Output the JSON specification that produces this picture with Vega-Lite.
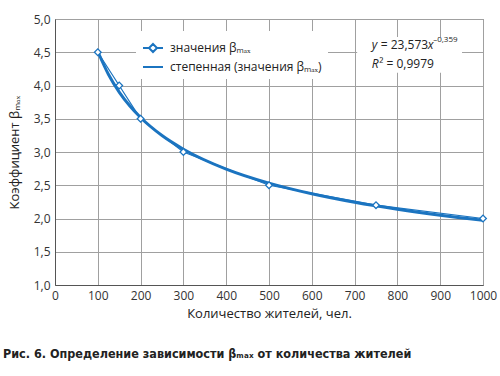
{
  "$schema": "https://vega.github.io/schema/vega-lite/v6.json",
  "width": 428,
  "height": 266,
  "autosize": {"type": "none"},
  "padding": {"left": 55, "top": 19, "right": 17, "bottom": 91},
  "background": "white",
  "config": {
    "font": "Open Sans",
    "view": {"stroke": "#7a7a7a", "strokeWidth": 1},
    "axis": {"grid": true, "gridColor": "#a0a0a0", "gridOpacity": 1, "gridWidth": 1, "domainColor": "#555", "ticks": false, "labelFlush": false, "labelFont": "Open Sans", "labelFontSize": 12, "labelColor": "#333", "titleFont": "Open Sans", "titleFontSize": 13, "titleFontWeight": "normal", "titleColor": "#222"}
  },
  "title": {"text": "Рис. 6. Определение зависимости βₘₐₓ от количества жителей", "orient": "bottom", "anchor": "start", "frame": "group", "dx": -52, "offset": 28, "font": "DejaVu Sans Condensed", "fontSize": 12.5, "fontWeight": "bold", "color": "#222"},
  "datasets": {
    "obs": [
      {"x": 100, "y": 4.5, "s": "значения βₘₐₓ"},
      {"x": 150, "y": 4.0, "s": "значения βₘₐₓ"},
      {"x": 200, "y": 3.5, "s": "значения βₘₐₓ"},
      {"x": 300, "y": 3.0, "s": "значения βₘₐₓ"},
      {"x": 500, "y": 2.5, "s": "значения βₘₐₓ"},
      {"x": 750, "y": 2.2, "s": "значения βₘₐₓ"},
      {"x": 1000, "y": 2.0, "s": "значения βₘₐₓ"}
    ],
    "fit": [
      {"x": 100, "y": 4.512, "s": "степенная (значения βₘₐₓ)"},
      {"x": 125, "y": 4.165, "s": "степенная (значения βₘₐₓ)"},
      {"x": 150, "y": 3.901, "s": "степенная (значения βₘₐₓ)"},
      {"x": 175, "y": 3.691, "s": "степенная (значения βₘₐₓ)"},
      {"x": 200, "y": 3.518, "s": "степенная (значения βₘₐₓ)"},
      {"x": 250, "y": 3.247, "s": "степенная (значения βₘₐₓ)"},
      {"x": 300, "y": 3.042, "s": "степенная (значения βₘₐₓ)"},
      {"x": 400, "y": 2.743, "s": "степенная (значения βₘₐₓ)"},
      {"x": 500, "y": 2.532, "s": "степенная (значения βₘₐₓ)"},
      {"x": 600, "y": 2.372, "s": "степенная (значения βₘₐₓ)"},
      {"x": 700, "y": 2.244, "s": "степенная (значения βₘₐₓ)"},
      {"x": 800, "y": 2.139, "s": "степенная (значения βₘₐₓ)"},
      {"x": 900, "y": 2.050, "s": "степенная (значения βₘₐₓ)"},
      {"x": 1000, "y": 1.974, "s": "степенная (значения βₘₐₓ)"}
    ],
    "eq": [
      {"a": "y", "b": "= 23,573", "c": "x", "d": "–0,359", "r": "R", "q": "² = 0,9979"}
    ]
  },
  "layer": [
    {
      "data": {"name": "fit"},
      "mark": {"type": "line", "strokeWidth": 3, "interpolate": "monotone", "color": "#1b74c0"},
      "encoding": {
        "x": {"field": "x", "type": "quantitative", "scale": {"domain": [0, 1000], "nice": false, "zero": false}, "axis": {"values": [0,100,200,300,400,500,600,700,800,900,1000], "format": "d", "title": "Количество жителей, чел.", "titlePadding": 6, "labelPadding": 5, "grid": true}},
        "y": {"field": "y", "type": "quantitative", "scale": {"domain": [1, 5], "nice": false, "zero": false}, "axis": {"values": [1,1.5,2,2.5,3,3.5,4,4.5,5], "labelExpr": "replace(format(datum.value, '.1f'), '.', ',')", "title": "Коэффициент βₘₐₓ", "titlePadding": 12, "labelPadding": 5, "grid": true}}
      }
    },
    {
      "data": {"name": "eq"},
      "mark": {"type": "rect", "fill": "white"},
      "encoding": {
        "x": {"datum": 706, "type": "quantitative", "scale": {"domain": [0, 1000], "nice": false, "zero": false}, "axis": {"values": [0,100,200,300,400,500,600,700,800,900,1000], "format": "d", "title": "Количество жителей, чел.", "titlePadding": 6, "labelPadding": 5, "grid": true}},
        "x2": {"datum": 951},
        "y": {"datum": 4.73, "type": "quantitative", "scale": {"domain": [1, 5], "nice": false, "zero": false}, "axis": {"values": [1,1.5,2,2.5,3,3.5,4,4.5,5], "labelExpr": "replace(format(datum.value, '.1f'), '.', ',')", "title": "Коэффициент βₘₐₓ", "titlePadding": 12, "labelPadding": 5, "grid": true}},
        "y2": {"datum": 4.19}
      }
    },
    {
      "data": {"name": "obs"},
      "encoding": {
        "x": {"field": "x", "type": "quantitative", "scale": {"domain": [0, 1000], "nice": false, "zero": false}, "axis": {"values": [0,100,200,300,400,500,600,700,800,900,1000], "format": "d", "title": "Количество жителей, чел.", "titlePadding": 6, "labelPadding": 5, "grid": true}},
        "y": {"field": "y", "type": "quantitative", "scale": {"domain": [1, 5], "nice": false, "zero": false}, "axis": {"values": [1,1.5,2,2.5,3,3.5,4,4.5,5], "labelExpr": "replace(format(datum.value, '.1f'), '.', ',')", "title": "Коэффициент βₘₐₓ", "titlePadding": 12, "labelPadding": 5, "grid": true}}
      },
      "layer": [
        {"mark": {"type": "line", "strokeWidth": 1.2, "color": "#1b74c0"}},
        {"mark": {"type": "point", "shape": "diamond", "filled": false, "fill": "white", "fillOpacity": 1, "size": 45, "strokeWidth": 1.3, "opacity": 1, "color": "#1b74c0"}},
        {
          "mark": {"type": "point", "opacity": 0, "filled": false},
          "encoding": {
            "color": {"field": "s", "type": "nominal", "scale": {"domain": ["значения βₘₐₓ", "степенная (значения βₘₐₓ)"], "range": ["#1b74c0", "#1b74c0"]}, "legend": {
              "title": null, "orient": "none", "legendX": 81, "legendY": 12, "fillColor": "white", "padding": 6,
              "labelFont": "Open Sans", "labelFontSize": 12, "labelColor": "#222", "rowPadding": -2, "labelOffset": 6,
              "symbolSize": 400, "symbolStrokeWidth": 2, "symbolFillColor": "white", "symbolOpacity": 1
            }},
            "shape": {"field": "s", "type": "nominal", "scale": {"domain": ["значения βₘₐₓ", "степенная (значения βₘₐₓ)"], "range": ["M-1,0L-0.4,0M0.4,0L1,0M0,-0.4L0.4,0L0,0.4L-0.4,0Z", "M-1,0L1,0"]}, "legend": {
              "title": null, "orient": "none", "legendX": 81, "legendY": 12, "fillColor": "white", "padding": 6,
              "labelFont": "Open Sans", "labelFontSize": 12, "labelColor": "#222", "rowPadding": -2, "labelOffset": 6,
              "symbolSize": 400, "symbolStrokeWidth": 2, "symbolFillColor": "white", "symbolOpacity": 1
            }}
          }
        }
      ]
    },
    {
      "data": {"name": "eq"},
      "encoding": {
        "x": {"datum": 740, "type": "quantitative", "scale": {"domain": [0, 1000], "nice": false, "zero": false}, "axis": {"values": [0,100,200,300,400,500,600,700,800,900,1000], "format": "d", "title": "Количество жителей, чел.", "titlePadding": 6, "labelPadding": 5, "grid": true}},
        "y": {"datum": 4.46, "type": "quantitative", "scale": {"domain": [1, 5], "nice": false, "zero": false}, "axis": {"values": [1,1.5,2,2.5,3,3.5,4,4.5,5], "labelExpr": "replace(format(datum.value, '.1f'), '.', ',')", "title": "Коэффициент βₘₐₓ", "titlePadding": 12, "labelPadding": 5, "grid": true}}
      },
      "layer": [
        {"mark": {"type": "text", "align": "left", "baseline": "middle", "font": "Open Sans", "fontSize": 12, "fontStyle": "italic", "color": "#222", "dy": -10}, "encoding": {"text": {"field": "a"}}},
        {"mark": {"type": "text", "align": "left", "baseline": "middle", "font": "Open Sans", "fontSize": 12, "color": "#222", "dx": 9, "dy": -10}, "encoding": {"text": {"field": "b"}}},
        {"mark": {"type": "text", "align": "left", "baseline": "middle", "font": "Open Sans", "fontSize": 12, "fontStyle": "italic", "color": "#222", "dx": 56, "dy": -10}, "encoding": {"text": {"field": "c"}}},
        {"mark": {"type": "text", "align": "left", "baseline": "middle", "font": "Open Sans", "fontSize": 8, "color": "#222", "dx": 61.5, "dy": -15}, "encoding": {"text": {"field": "d"}}},
        {"mark": {"type": "text", "align": "left", "baseline": "middle", "font": "Open Sans", "fontSize": 12, "fontStyle": "italic", "color": "#222", "dy": 9}, "encoding": {"text": {"field": "r"}}},
        {"mark": {"type": "text", "align": "left", "baseline": "middle", "font": "Open Sans", "fontSize": 12, "color": "#222", "dx": 7.5, "dy": 9}, "encoding": {"text": {"field": "q"}}}
      ]
    }
  ]
}
